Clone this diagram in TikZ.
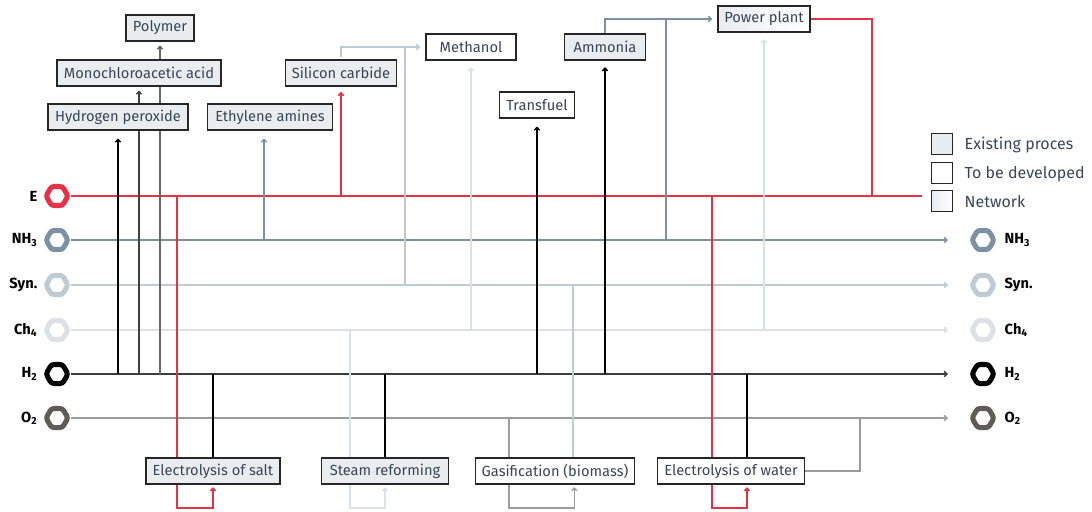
\documentclass[tikz,border=0pt]{standalone}
\usepackage{fontspec}
\setmainfont{Fira Sans}
\usetikzlibrary{arrows.meta,shapes.geometric,backgrounds}
\definecolor{eline}{RGB}{230,50,70}
\definecolor{nh3line}{RGB}{125,145,163}
\definecolor{synline}{RGB}{190,202,212}
\definecolor{ch4line}{RGB}{220,225,230}
\definecolor{h2line}{RGB}{60,60,60}
\definecolor{o2hex}{RGB}{95,91,86}
\definecolor{o2line}{RGB}{155,155,155}
\definecolor{existfill}{RGB}{233,237,240}
\definecolor{boxtext}{RGB}{58,70,86}

\begin{document}
\begin{tikzpicture}[x=0.75pt,y=-0.75pt,
    box/.style={draw=black!85,line width=1pt,minimum height=19.5pt,inner xsep=3pt,inner ysep=0pt,font=\fontsize{11}{13}\selectfont,text=boxtext},
    exist/.style={box,fill=existfill},
    todo/.style={box,fill=white},
    network/.style={box,left color=existfill,right color=white},
    legbox/.style={draw=black!85,line width=1pt,minimum width=15.75pt,minimum height=15.75pt,inner sep=0pt},
    legtext/.style={anchor=west,font=\fontsize{12}{14}\selectfont,text=boxtext},
    hexnode/.style={regular polygon,regular polygon sides=6,line width=3.8pt,fill=white,minimum size=16.5pt,inner sep=0pt,rounded corners=2pt},
    rowlabel/.style={font=\fontsize{11}{12}\selectfont\bfseries},
    pipe/.style={line width=1.1pt},
    tip/.style={-{To[length=3pt,width=4.5pt]}}]
    \useasboundingbox (0,0) rectangle (1092,511);

    % Networks, left
    \foreach \nm/\lab/\yy/\col in {E/E/196/eline,NH3/{NH\textsubscript{3}}/240/nh3line,Syn/Syn./285/synline,Ch4/{Ch\textsubscript{4}}/330/ch4line,H2/{H\textsubscript{2}}/374/black,O2/{O\textsubscript{2}}/418/o2hex}{
        \node[hexnode,draw=\col] (l\nm) at (57,\yy) {};
        \node[rowlabel,anchor=east] at (42,\yy) {\lab};
    }
    % Networks, right
    \foreach \nm/\lab/\yy/\col in {NH3/{NH\textsubscript{3}}/240/nh3line,Syn/Syn./285/synline,Ch4/{Ch\textsubscript{4}}/330/ch4line,H2/{H\textsubscript{2}}/374/black,O2/{O\textsubscript{2}}/418/o2hex}{
        \node[hexnode,draw=\col] (r\nm) at (983,\yy) {};
        \node[rowlabel,anchor=west] at (1000,\yy) {\lab};
    }
    \coordinate (eEnd) at (922,196);

    % Products
    \node[exist,minimum width=51pt] (poly) at (160,28) {Polymer};
    \node[exist,minimum width=123pt] (mca) at (139,73) {Monochloroacetic acid};
    \node[exist,minimum width=105pt] (hp) at (118,117) {Hydrogen peroxide};
    \node[exist,minimum width=93.75pt] (ea) at (270,117) {Ethylene amines};
    \node[exist,minimum width=83.25pt] (sc) at (341,73) {Silicon carbide};
    \node[todo,minimum width=67.5pt] (me) at (471,47) {Methanol};
    \node[exist,minimum width=60.75pt] (am) at (605,47) {Ammonia};
    \node[todo,minimum width=56.25pt] (tf) at (537,105) {Transfuel};
    \node[network,minimum width=69pt] (pp) at (764,19) {Power plant};

    % Processes
    \node[exist,minimum width=100.5pt] (es) at (213,471) {Electrolysis of salt};
    \node[exist,minimum width=95.25pt] (sr) at (385,471) {Steam reforming};
    \node[todo,minimum width=119.25pt] (ga) at (555,471) {Gasification (biomass)};
    \node[todo,minimum width=110.25pt] (ew) at (731,471) {Electrolysis of water};

    % Legend
    \node[legbox,fill=existfill] (lgA) at (942,144) {};
    \node[legbox,fill=white] (lgB) at (942,173) {};
    \node[legbox,left color=existfill,right color=white] (lgC) at (942,201) {};
    \node[legtext] at (960,145) {Existing proces};
    \node[legtext] at (960,174) {To be developed};
    \node[legtext] at (960,202) {Network};

    % junctions
    \coordinate (synJ) at (405,47);
    \coordinate (nhJ) at (666,19);
    \coordinate (eJ) at (872,196);
    \coordinate (eaIn) at ([xshift=-4.5pt,yshift=-6pt]ea.south);
    \coordinate (esE) at (177,508);
    \coordinate (srC) at (350,508);
    \coordinate (gaO) at (509,508);
    \coordinate (gaIn) at ([xshift=14.5pt,yshift=-2pt]ga.south);
    \coordinate (gaS) at ([xshift=13.5pt]ga.north);
    \coordinate (ewE) at (712,508);
    \coordinate (ewIn) at ([xshift=12pt,yshift=-2pt]ew.south);
    \coordinate (ewH) at ([xshift=12pt]ew.north);
    \coordinate (ewO) at (860,418);

    \begin{scope}[on background layer]
        % network lines
        \draw[pipe,eline] (lE) -- (eEnd);
        \draw[pipe,nh3line,tip] (lNH3) -- ([xshift=-16pt]rNH3.west);
        \draw[pipe,synline,tip] (lSyn) -- ([xshift=-16pt]rSyn.west);
        \draw[pipe,ch4line,tip] (lCh4) -- ([xshift=-16pt]rCh4.west);
        \draw[pipe,h2line,tip] (lH2) -- ([xshift=-16pt]rH2.west);
        \draw[pipe,o2line,tip] (lO2) -- ([xshift=-16pt]rO2.west);

        % up to products
        \draw[pipe,black,tip] (hp.south |- lH2) -- ([yshift=-6pt]hp.south);
        \draw[pipe,black!75,tip] (mca.south |- lH2) -- ([yshift=-3pt]mca.south);
        \draw[pipe,black!60,tip] (poly.south |- lH2) -- ([yshift=-3pt]poly.south);
        \draw[pipe,nh3line,tip] (eaIn |- lNH3) -- (eaIn);
        \draw[pipe,eline,tip] (sc.south |- lE) -- ([yshift=-4pt]sc.south);
        \draw[pipe,synline,tip] ([yshift=2pt]sc.north) |- ([xshift=-4pt]me.west);
        \draw[pipe,synline] (synJ |- lSyn) -- (synJ);
        \draw[pipe,ch4line,tip] (me.south |- lCh4) -- ([yshift=-5pt]me.south);
        \draw[pipe,black,tip] (tf.south |- lH2) -- ([yshift=-6pt]tf.south);
        \draw[pipe,black,tip] (am.south |- lH2) -- ([yshift=-5pt]am.south);
        \draw[pipe,nh3line,tip] (am.north) |- ([xshift=-4pt]pp.west);
        \draw[pipe,nh3line] (nhJ |- lNH3) -- (nhJ);
        \draw[pipe,ch4line,tip] (pp.south |- lCh4) -- ([yshift=-5pt]pp.south);
        \draw[pipe,eline] (pp.east) -| (eJ);

        % processes
        \draw[pipe,eline,tip] (esE |- lE) -- (esE) -| ([yshift=-2pt]es.south);
        \draw[pipe,black] (es.north) -- (es.north |- lH2);
        \draw[pipe,ch4line,tip] (srC |- lCh4) -- (srC) -| ([yshift=-2pt]sr.south);
        \draw[pipe,black] (sr.north) -- (sr.north |- lH2);
        \draw[pipe,o2line,tip] (gaO |- lO2) -- (gaO) -| (gaIn);
        \draw[pipe,synline] (gaS) -- (gaS |- lSyn);
        \draw[pipe,eline,tip] (ewE |- lE) -- (ewE) -| (ewIn);
        \draw[pipe,black] (ewH) -- (ewH |- lH2);
        \draw[pipe,o2line] (ew.east) -| (ewO);
    \end{scope}
\end{tikzpicture}
\end{document}
